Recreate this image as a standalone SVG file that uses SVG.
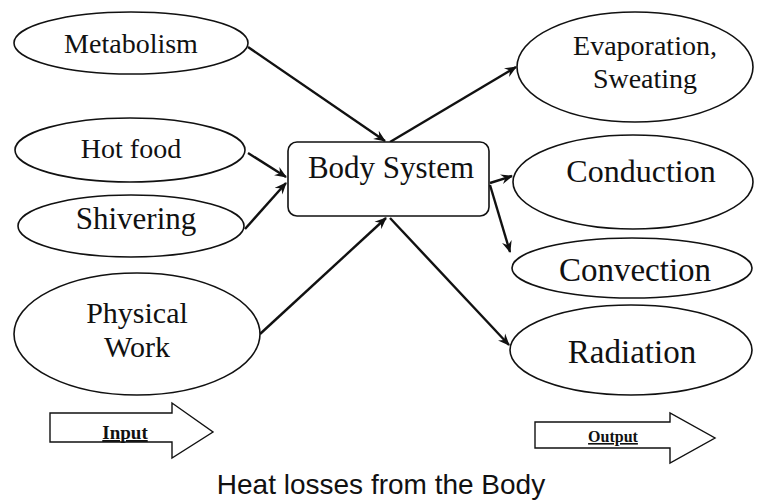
<svg xmlns="http://www.w3.org/2000/svg" width="760" height="502" viewBox="0 0 760 502">
<style>
.node{fill:#fff;stroke:#111;stroke-width:1.6}
.t{font-family:"Liberation Serif","Times New Roman",serif;fill:#111;text-anchor:middle}
.c{fill:none;stroke:#111;stroke-width:2.4;marker-end:url(#ah)}
.big{fill:#fff;stroke:#111;stroke-width:1.4}
</style>
<defs>
<marker id="ah" viewBox="0 0 12 10" refX="11" refY="5" markerWidth="5" markerHeight="5" orient="auto" markerUnits="strokeWidth">
<path d="M0,0 L12,5 L0,10 L4,5 z" fill="#111"/>
</marker>
</defs>
<rect width="760" height="502" fill="#fff"/>
<g id="connectors">
<line class="c" x1="248" y1="47" x2="385" y2="141"/>
<line class="c" x1="248" y1="153" x2="286" y2="177"/>
<line class="c" x1="245" y1="229" x2="286" y2="183"/>
<line class="c" x1="260" y1="334" x2="386" y2="218"/>
<line class="c" x1="390" y1="142" x2="516" y2="67"/>
<line class="c" x1="490" y1="183" x2="512" y2="176"/>
<line class="c" x1="490" y1="185" x2="510" y2="252"/>
<line class="c" x1="390" y1="218" x2="509" y2="345"/>
</g>
<g id="metabolism"><ellipse class="node" cx="131" cy="43" rx="117" ry="31"/><text class="t" x="131" y="53" font-size="28">Metabolism</text></g>
<g id="hotfood"><ellipse class="node" cx="130" cy="150" rx="115" ry="32"/><text class="t" x="131" y="158" font-size="28">Hot food</text></g>
<g id="shivering"><ellipse class="node" cx="131" cy="226" rx="113" ry="31"/><text class="t" x="136" y="229" font-size="31">Shivering</text></g>
<g id="physicalwork"><ellipse class="node" cx="137" cy="334" rx="123" ry="61"/><text class="t" x="137" y="323" font-size="30">Physical</text><text class="t" x="137" y="357" font-size="30">Work</text></g>
<g id="bodysystem"><rect class="node" x="288" y="142" width="201" height="74" rx="9"/><text class="t" x="391" y="178" font-size="31">Body System</text></g>
<g id="evaporation"><ellipse class="node" cx="635" cy="67" rx="118" ry="55"/><text class="t" x="645" y="55" font-size="28">Evaporation,</text><text class="t" x="645" y="88" font-size="28">Sweating</text></g>
<g id="conduction"><ellipse class="node" cx="633" cy="182" rx="120" ry="47"/><text class="t" x="641" y="182" font-size="32">Conduction</text></g>
<g id="convection"><ellipse class="node" cx="632" cy="268" rx="120" ry="30"/><text class="t" x="635" y="281" font-size="33">Convection</text></g>
<g id="radiation"><ellipse class="node" cx="631" cy="350" rx="121" ry="45"/><text class="t" x="632" y="363" font-size="33">Radiation</text></g>
<g id="input"><path class="big" d="M50,413 L172,413 L172,403 L213,432 L172,458 L172,442 L50,442 z"/><text class="t" x="125" y="439" font-size="19" font-weight="bold" text-decoration="underline">Input</text></g>
<g id="output"><path class="big" d="M535,422 L670,422 L670,413 L715,438 L670,463 L670,448 L535,448 z"/><text class="t" x="613" y="442" font-size="16" font-weight="bold" text-decoration="underline">Output</text></g>
<text x="381" y="494" font-family="'Liberation Sans',Arial,sans-serif" font-size="28" text-anchor="middle" fill="#111">Heat losses from the Body</text>
</svg>
